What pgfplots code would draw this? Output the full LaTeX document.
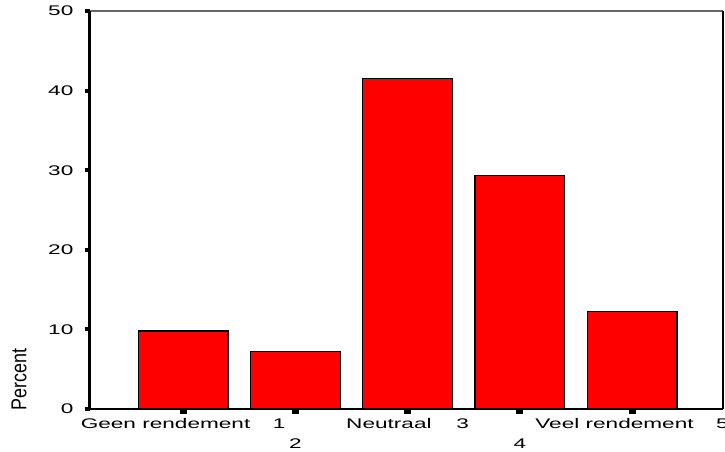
\documentclass[border=0pt]{standalone}
\usepackage{fontspec}
\setmainfont{Liberation Sans}
\usepackage{pgfplots}
\pgfplotsset{compat=1.18}
\begin{document}
\begin{tikzpicture}
\begin{axis}[
  name=ax,
  scale only axis, width=633bp, height=398bp,
  xmin=0.17, xmax=5.81, ymin=0, ymax=50,
  clip=false,
  axis line style={draw=none},
  xtick={1,2,3,4,5},
  xticklabels={{Geen rendement\hspace{1em}1},{\vphantom{d}\\2},{Neutraal\hspace{1.1em}3},{\vphantom{d}\\4},{Veel rendement\hspace{1em}5}},
  ytick={0,10,20,30,40,50},
  xtick pos=bottom, ytick pos=left,
  tick align=outside,
  major tick length=5bp,
  xtick style={line width=7bp, black},
  ytick style={line width=4bp, black},
  /pgf/number format/assume math mode=true,
  xticklabel style={font=\fontsize{14}{20.5}\selectfont, xscale=1.62, align=center, anchor=north, inner sep=0pt, yshift=-4bp},
  yticklabel style={font=\fontsize{14}{14}\selectfont, xscale=1.62, anchor=east, inner sep=0pt, xshift=-7bp},
  ylabel={Percent},
  ylabel style={at={(axis description cs:-0.112,0.075)}, anchor=center, font=\fontsize{18}{18}\selectfont, yscale=1.2, inner sep=0pt},
]
\addplot[ybar, bar width=0.8, fill=red, draw=black, line width=1.2bp]
  coordinates {(1,9.8) (2,7.2) (3,41.5) (4,29.3) (5,12.2)};
\draw[line width=1.5bp, black!60] (rel axis cs:0,1) -- (rel axis cs:1,1);
\draw[line width=1.5bp, black] (rel axis cs:1,0) -- (rel axis cs:1,1);
\draw[line width=2bp, black] (rel axis cs:0,0) -- (rel axis cs:1,0);
\draw[line width=3bp, black] (rel axis cs:0,0) -- (rel axis cs:0,1);
\end{axis}
\pgfresetboundingbox
\path ([shift={(-90bp,-43bp)}]ax.south west) rectangle ([shift={(2bp,11bp)}]ax.north east);
\end{tikzpicture}
\end{document}
